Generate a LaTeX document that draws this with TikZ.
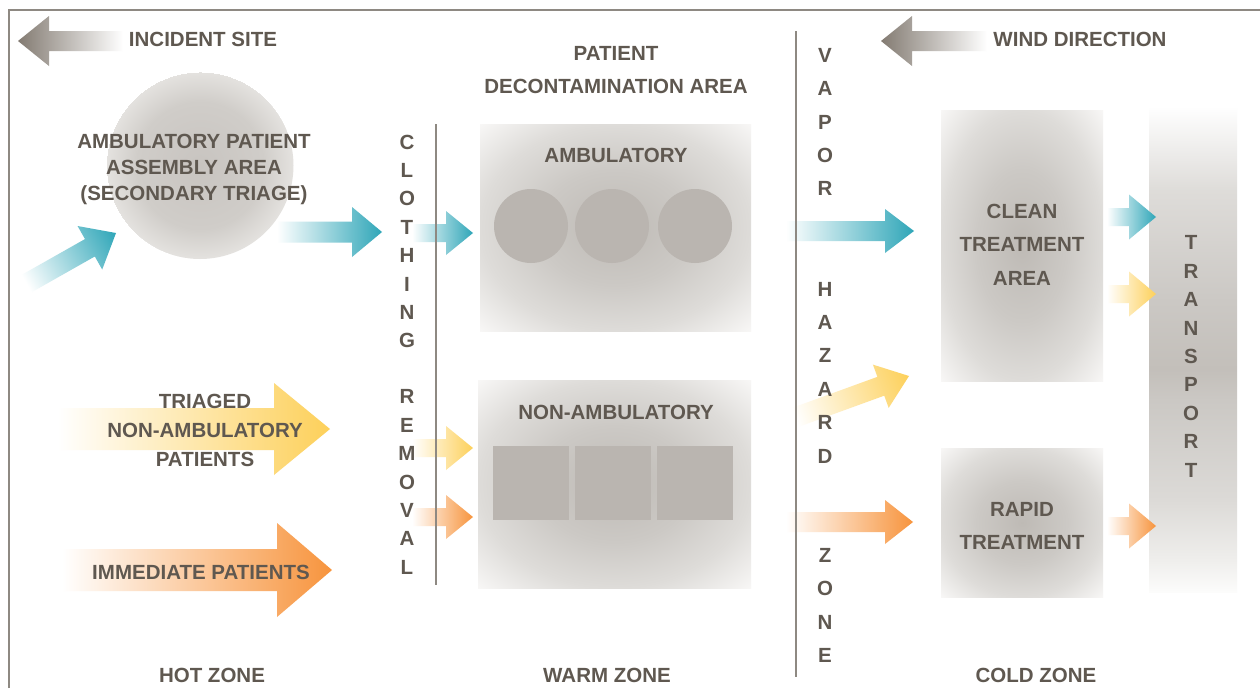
\documentclass[tikz,border=0pt]{standalone}
\usepackage{fontspec}
\setmainfont{Liberation Sans}
\definecolor{tealc}{HTML}{2FA6B8}
\definecolor{yellowc}{HTML}{FDD05A}
\definecolor{orangec}{HTML}{F7943D}
\definecolor{brownc}{HTML}{837B72}
\definecolor{textc}{HTML}{5F5850}
\definecolor{linec}{HTML}{8E8982}
\definecolor{blockc}{HTML}{BAB5B0}
\pgfdeclareradialshading{boxglow}{\pgfpoint{0bp}{0bp}}{%
  color(0bp)=(rgb,255:red,190;green,186;blue,181);
  color(14bp)=(rgb,255:red,204;green,201;blue,197);
  color(25bp)=(rgb,255:red,222;green,220;blue,217);
  color(35.4bp)=(rgb,255:red,248;green,247;blue,246)}
\pgfdeclareradialshading{discglow}{\pgfpoint{0bp}{0bp}}{%
  color(0bp)=(rgb,255:red,200;green,196;blue,192);
  color(17bp)=(rgb,255:red,208;green,205;blue,201);
  color(25bp)=(rgb,255:red,228;green,226;blue,223)}
\pgfdeclareverticalshading{railglow}{100bp}{%
  color(0bp)=(rgb,255:red,252;green,252;blue,251);
  color(25bp)=(rgb,255:red,252;green,252;blue,251);
  color(28.3bp)=(rgb,255:red,239;green,238;blue,236);
  color(34.5bp)=(rgb,255:red,220;green,218;blue,215);
  color(44.8bp)=(rgb,255:red,203;green,200;blue,196);
  color(48bp)=(rgb,255:red,195;green,191;blue,186);
  color(55bp)=(rgb,255:red,203;green,200;blue,196);
  color(66.5bp)=(rgb,255:red,222;green,220;blue,217);
  color(75bp)=(rgb,255:red,254;green,254;blue,254);
  color(100bp)=(rgb,255:red,254;green,254;blue,254)}
\tikzset{
  lbl/.style={font=\bfseries\fontsize{20.5}{26}\selectfont,text=textc,align=center,inner sep=0pt},
  stackA/.style={lbl,font=\bfseries\fontsize{20.5}{28.4}\selectfont},
  stackB/.style={lbl,font=\bfseries\fontsize{20.5}{33.4}\selectfont},
  rulex/.style={draw=linec,line width=1.8pt},
  block/.style={fill=blockc,draw=none},
  glow/.style={shading=boxglow},
  toT/.style={left color=white,middle color=tealc!60!white,right color=tealc},
  toY/.style={left color=white,middle color=yellowc!60!white,right color=yellowc},
  toO/.style={left color=white,middle color=orangec!60!white,right color=orangec},
  toB/.style={left color=brownc,middle color=brownc!60!white,right color=white},
}
% tail x, centre y, neck x, tip x, half shaft, half head, shading options
\newcommand\grarrow[7]{%
  \shade[#7] (#1,{#2-#5}) -- (#3,{#2-#5}) -- (#3,{#2-#6}) -- (#4,#2) -- (#3,{#2+#6}) -- (#3,{#2+#5}) -- (#1,{#2+#5}) -- cycle;}
\begin{document}
\begin{tikzpicture}[x=1pt,y=-1pt]
\useasboundingbox (0,0) rectangle (1260,688);
\fill[white] (0,0) rectangle (1260,688);
% frame
\draw[draw=linec,line width=1.4pt] (9,688) -- (9,10) -- (1260,10);
% areas
\shade[shading=discglow] (200,165.5) circle [radius=93.5];
\shade[glow] (480,124) rectangle (751,331);
\shade[glow] (478,380) rectangle (751,588);
\shade[glow] (941,110) rectangle (1103,381);
\shade[glow] (941,448) rectangle (1103,597);
\shade[shading=railglow] (1149,108) rectangle (1237,592);
% inner blocks
\fill[block] (531,226) circle [radius=37];
\fill[block] (612,226) circle [radius=37];
\fill[block] (695,226) circle [radius=37];
\fill[block] (493,446) rectangle (569,520);
\fill[block] (575,446) rectangle (651,520);
\fill[block] (657,446) rectangle (733,520);
% arrows
\grarrow{123}{41}{49}{18}{10}{25}{toB}
\grarrow{987}{41}{912}{881}{10}{25}{toB}
\begin{scope}[transform canvas={rotate around={29.5:(116,233)}}]
\grarrow{13}{233}{86}{116}{10}{25}{toT}
\end{scope}
\grarrow{277}{232}{352}{382}{10.5}{25}{toT}
\grarrow{412}{233}{446}{473}{9}{22}{toT}
\grarrow{412}{448}{446}{473}{9}{22}{toY}
\grarrow{412}{517}{446}{473}{9}{22}{toO}
\grarrow{786}{231}{885}{914}{10}{22}{toT}
\begin{scope}[transform canvas={rotate around={20:(909,376)}}]
\grarrow{788}{376}{879}{909}{10}{23}{toY}
\end{scope}
\grarrow{786}{522}{885}{913}{10}{22}{toO}
\grarrow{1107}{217}{1129}{1156}{9}{22.5}{toT}
\grarrow{1107}{294}{1129}{1156}{9}{22.5}{toY}
\grarrow{1107}{526}{1129}{1156}{9}{22.5}{toO}
\grarrow{58}{429}{274}{330}{21}{46}{toY}
\grarrow{62}{570}{277}{332}{21}{47}{toO}
% rules
\draw[rulex] (436,124) -- (436,585);
\draw[rulex] (796,31) -- (796,677);
% labels
\node[lbl] (incident) at (203,39) {INCIDENT SITE};
\node[lbl] (wind) at (1080,39) {WIND DIRECTION};
\node[lbl] (assembly) at (194,169) {AMBULATORY PATIENT\\ASSEMBLY AREA\\(SECONDARY TRIAGE)};
\node[lbl,font=\bfseries\fontsize{20.5}{33}\selectfont] (decon) at (616,70.5) {PATIENT\\DECONTAMINATION AREA};
\node[lbl] (amb) at (616,155) {AMBULATORY};
\node[lbl] (nonamb) at (616,412) {NON-AMBULATORY};
\node[lbl,font=\bfseries\fontsize{20.5}{29}\selectfont] (triaged) at (205,430) {TRIAGED\\NON-AMBULATORY\\PATIENTS};
\node[lbl] (immediate) at (201,572) {IMMEDIATE PATIENTS};
\node[lbl,font=\bfseries\fontsize{20.5}{33.5}\selectfont] (clean) at (1022,244.5) {CLEAN\\TREATMENT\\AREA};
\node[lbl,font=\bfseries\fontsize{20.5}{33}\selectfont] (rapid) at (1022,525.5) {RAPID\\TREATMENT};
\node[lbl] (hot) at (212,675) {HOT ZONE};
\node[lbl] (warm) at (607,675) {WARM ZONE};
\node[lbl] (cold) at (1036,675) {COLD ZONE};
\node[stackA] (clothing) at (407,241.5) {C\\L\\O\\T\\H\\I\\N\\G};
\node[stackA] (removal) at (407,482) {R\\E\\M\\O\\V\\A\\L};
\node[stackB] (vapor) at (825,122) {V\\A\\P\\O\\R};
\node[stackB] (hazard) at (825,372.5) {H\\A\\Z\\A\\R\\D};
\node[stackB] (zone) at (825,605.5) {Z\\O\\N\\E};
\node[stackA] (transport) at (1191,356.5) {T\\R\\A\\N\\S\\P\\O\\R\\T};
\end{tikzpicture}
\end{document}
